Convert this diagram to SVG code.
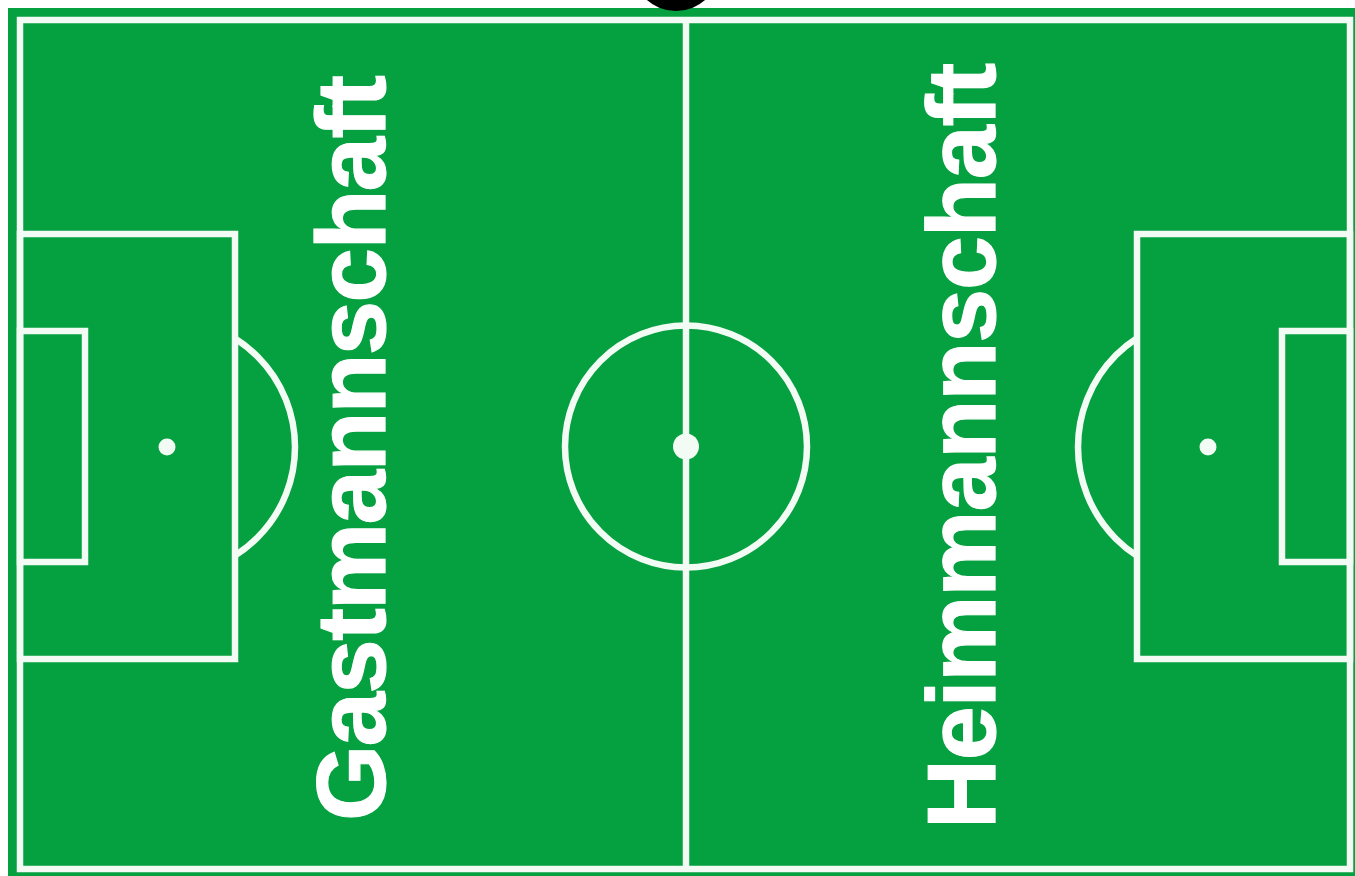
<svg xmlns="http://www.w3.org/2000/svg" width="1355" height="876" viewBox="0 0 1355 876">
<style>
.ln{fill:none;stroke:#f2fbf4;stroke-width:6.5}
.spot{fill:#f2fbf4}
.lbl{font-family:"Liberation Sans",Arial,sans-serif;font-weight:bold;fill:#ffffff;stroke:#ffffff;stroke-width:1.2;text-rendering:geometricPrecision}
</style>
<defs>
<clipPath id="clipL"><rect x="236" y="0" width="200" height="876"/></clipPath>
<clipPath id="clipR"><rect x="900" y="0" width="237" height="876"/></clipPath>
</defs>
<rect x="0" y="0" width="1355" height="876" fill="#ffffff"/>
<rect x="8" y="8" width="1347" height="868" fill="#05a03f"/>
<circle cx="676" cy="-33" r="44" fill="#000000"/>
<g id="field">
<rect class="ln" x="20" y="20" width="1330" height="849" stroke-width="7"/>
<line class="ln" x1="686" y1="20" x2="686" y2="869"/>
<circle class="ln" cx="686" cy="446.5" r="121" stroke-width="7.5"/>
<circle class="spot" cx="686" cy="446.5" r="13"/>
</g>
<g id="left-half">
<rect class="ln" x="20" y="234" width="215" height="425"/>
<rect class="ln" x="20" y="331" width="65" height="231"/>
<circle class="spot" cx="167" cy="447" r="8.5"/>
<circle class="ln" cx="167" cy="447" r="128" stroke-width="4.5" clip-path="url(#clipL)"/>
</g>
<g id="right-half">
<rect class="ln" x="1137" y="234" width="213" height="425"/>
<rect class="ln" x="1282" y="331" width="68" height="231"/>
<circle class="spot" cx="1208" cy="447" r="8.5"/>
<circle class="ln" cx="1208" cy="447" r="130" stroke-width="4.5" clip-path="url(#clipR)"/>
</g>
<g id="label-gast">
<text class="lbl" transform="translate(385,821) rotate(-90)" x="0" y="0" font-size="98" textLength="746" lengthAdjust="spacing">Gastmannschaft</text>
</g>
<g id="label-heim">
<text class="lbl" transform="translate(995,829) rotate(-90)" x="0" y="0" font-size="97" textLength="766" lengthAdjust="spacing">Heimmannschaft</text>
</g>
</svg>
